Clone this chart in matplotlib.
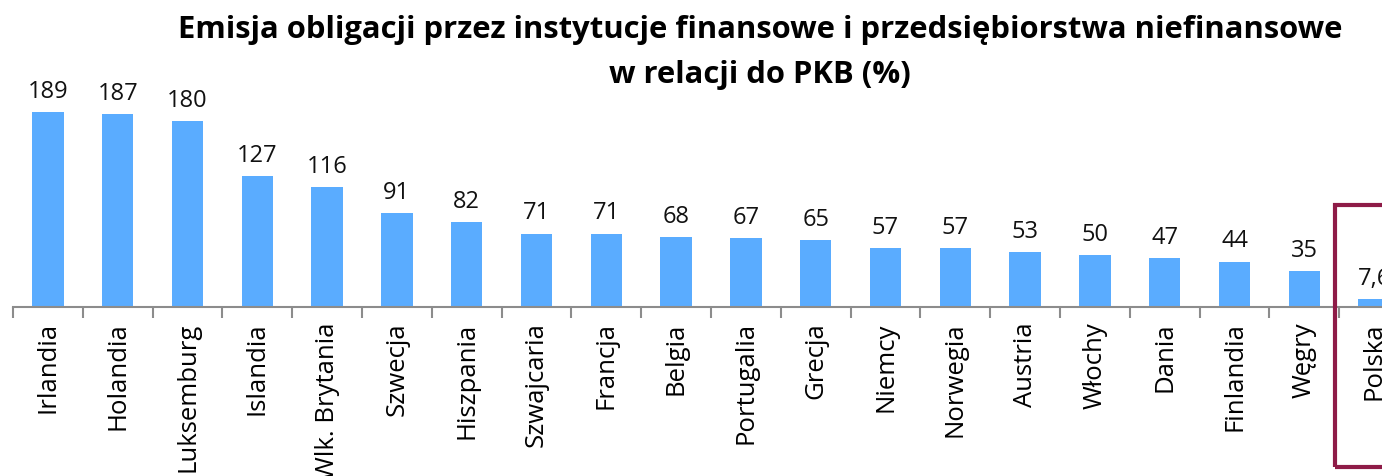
import matplotlib.pyplot as plt
import numpy as np
from matplotlib.patches import Rectangle

countries = ["Irlandia", "Holandia", "Luksemburg", "Islandia", "Wlk. Brytania", "Szwecja",
             "Hiszpania", "Szwajcaria", "Francja", "Belgia", "Portugalia", "Grecja",
             "Niemcy", "Norwegia", "Austria", "Włochy", "Dania", "Finlandia", "Węgry", "Polska"]
values = [189, 187, 180, 127, 116, 91, 82, 71, 71, 68, 67, 65, 57, 57, 53, 50, 47, 44, 35, 7.6]
labels = ["189", "187", "180", "127", "116", "91", "82", "71", "71", "68", "67", "65",
          "57", "57", "53", "50", "47", "44", "35", "7,6"]

plt.rcParams['font.family'] = ['Open Sans', 'DejaVu Sans']

W, H = 1382, 476
fig = plt.figure(figsize=(W / 100, H / 100), dpi=100)

# axes: left edge at 13px, baseline at 307px, 69.8px per category
step = 69.8
ax = fig.add_axes([13 / W, (H - 307) / H, 20 * step / W, 289 / H])
x = np.arange(len(countries))
ax.bar(x, values, width=0.45, color="#5AACFF")
ax.set_xlim(-0.5, len(countries) - 0.5)
ax.set_ylim(0, 280)

for xi, v, lab in zip(x, values, labels):
    ax.text(xi, v + 8, lab, ha="center", va="bottom", fontsize=17, color="#111111")

for s in ["top", "right", "left"]:
    ax.spines[s].set_visible(False)
ax.spines["bottom"].set_color("#8C8C8C")
ax.spines["bottom"].set_linewidth(1.5)
ax.set_yticks([])

ax.set_xticks(x)
ax.set_xticklabels(countries, rotation=90, fontsize=18.5, va="top")
ax.tick_params(axis="x", which="major", length=0, pad=11)
ax.set_xticks(np.arange(-0.5, len(countries), 1), minor=True)
ax.tick_params(axis="x", which="minor", length=8, width=1.5, color="#8C8C8C", direction="out")

fig.text(760 / W, 1 - 30 / H, "Emisja obligacji przez instytucje finansowe i przedsiębiorstwa niefinansowe",
         ha="center", va="center", fontsize=22.3, fontweight="bold")
fig.text(760 / W, 1 - 75 / H, "w relacji do PKB (%)",
         ha="center", va="center", fontsize=22.3, fontweight="bold")

fig.patches.append(Rectangle((1335 / W, 1 - 467 / H), 80 / W, 262 / H,
                             transform=fig.transFigure, fill=False,
                             edgecolor="#8E1B47", linewidth=3, zorder=5))

fig.savefig("out.png", dpi=100)
